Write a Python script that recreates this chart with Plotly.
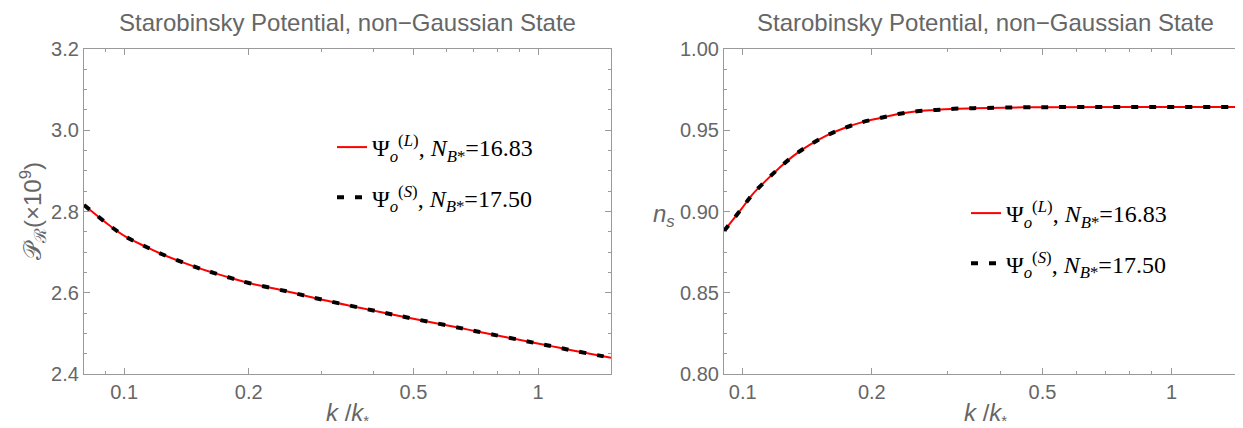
import plotly.graph_objects as go

# ---------------- data ----------------
k_left = [0.080, 0.0932, 0.1013, 0.1119, 0.1227, 0.149, 0.1645, 0.1815, 0.200,
          0.247, 0.301, 0.410, 0.500, 0.650, 0.718, 0.977, 1.083, 1.196, 1.500]
ps_L = [2.816, 2.762, 2.737, 2.715, 2.696, 2.663, 2.649, 2.636, 2.624,
        2.6035, 2.583, 2.554, 2.536, 2.513, 2.504, 2.477, 2.468, 2.459, 2.440]
ps_S = [2.816, 2.762, 2.737, 2.715, 2.696, 2.663, 2.649, 2.636, 2.624,
        2.6035, 2.583, 2.554, 2.536, 2.513, 2.504, 2.477, 2.468, 2.459, 2.440]

k_right = [0.0904, 0.0989, 0.1055, 0.1132, 0.1213, 0.1315, 0.1432, 0.1567, 0.1726,
           0.190, 0.208, 0.2304, 0.2547, 0.282, 0.311, 0.346, 0.500, 0.800, 1.500]
ns_L = [0.888, 0.901, 0.9107, 0.919, 0.9265, 0.9344, 0.941, 0.9467, 0.9514,
        0.955, 0.9574, 0.960, 0.9617, 0.9625, 0.9632, 0.9636, 0.9642, 0.9643, 0.9643]
ns_S = [0.888, 0.901, 0.9107, 0.919, 0.9265, 0.9344, 0.941, 0.9467, 0.9514,
        0.955, 0.9574, 0.960, 0.9617, 0.9625, 0.9632, 0.9636, 0.9642, 0.9643, 0.9643]

name_L = "Ψ<sub><i>o</i></sub><sup>(<i>L</i>)</sup>, <i>N</i><sub><i>B</i>*</sub>=16.83"
name_S = "Ψ<sub><i>o</i></sub><sup>(<i>S</i>)</sup>, <i>N</i><sub><i>B</i>*</sub>=17.50"

x_tickvals = [0.1, 0.2, 0.5, 1]
x_ticktext = ["0.1", "0.2", "0.5", "1"]
x_minor = [0.09, 0.3, 0.4, 0.6, 0.7, 0.8, 0.9, 1.5]
yl_ticks = [2.4, 2.6, 2.8, 3.0, 3.2]
yr_ticks = [0.80, 0.85, 0.90, 0.95, 1.00]
title_text = "Starobinsky Potential, non−Gaussian State"
x_title = "<i>k</i> /<i>k</i><sub><span style='font-size:15px'>*</span></sub>"

# ---------------- figure ----------------
W, H = 1243, 428
GRAY = "#666666"
FRAME = "#9a9a9a"

fig = go.Figure()

fig.add_trace(go.Scatter(x=k_left, y=ps_L, mode="lines", name=name_L,
                         line=dict(color="red", width=2, shape="spline"),
                         xaxis="x", yaxis="y", legend="legend", legendgroup="a"))
fig.add_trace(go.Scatter(x=k_left, y=ps_S, mode="lines", name=name_S,
                         line=dict(color="black", width=4, dash="7px,11px", shape="spline"),
                         xaxis="x", yaxis="y", legend="legend", legendgroup="b"))
fig.add_trace(go.Scatter(x=k_right, y=ns_L, mode="lines", name=name_L,
                         line=dict(color="red", width=2, shape="spline"),
                         xaxis="x2", yaxis="y2", legend="legend2", legendgroup="c"))
fig.add_trace(go.Scatter(x=k_right, y=ns_S, mode="lines", name=name_S,
                         line=dict(color="black", width=4, dash="7px,11px", shape="spline"),
                         xaxis="x2", yaxis="y2", legend="legend2", legendgroup="d"))

L0, L1 = 76, 603
R0, R1 = 716, 1239
T, B = 41, 366

def px(x):
    return x / W

axis_common = dict(showline=True, linecolor=FRAME, linewidth=1.2, mirror="ticks",
                   ticks="inside", ticklen=6, tickcolor=FRAME, tickwidth=1,
                   showgrid=False, zeroline=False,
                   tickfont=dict(family="Liberation Sans, Arial", size=20, color=GRAY))

xminor = dict(tickvals=x_minor, ticklen=3, tickcolor=FRAME, ticks="inside")

LEG_FONT = dict(family="Liberation Serif, Times New Roman", size=24, color="black")

fig.update_layout(
    width=W, height=H,
    margin=dict(l=0, r=0, t=T, b=H - B),
    paper_bgcolor="white", plot_bgcolor="white",
    xaxis=dict(type="log", domain=[px(L0), px(L1)], range=[-1.0969, 0.1761],
               tickvals=x_tickvals, ticktext=x_ticktext, minor=xminor,
               anchor="y", **axis_common),
    yaxis=dict(domain=[0, 1], range=[2.4, 3.2], tickvals=yl_ticks, tickformat=".1f",
               minor=dict(dtick=0.05, ticklen=3, tickcolor=FRAME, ticks="inside"),
               anchor="x", **axis_common),
    xaxis2=dict(type="log", domain=[px(R0), px(R1)], range=[-1.0438, 0.1761],
                tickvals=x_tickvals, ticktext=x_ticktext, minor=xminor,
                anchor="y2", **axis_common),
    yaxis2=dict(domain=[0, 1], range=[0.80, 1.00], tickvals=yr_ticks, tickformat=".2f",
                minor=dict(dtick=0.0125, ticklen=3, tickcolor=FRAME, ticks="inside"),
                anchor="x2", **axis_common),
    legend=dict(x=px(324), y=(B - 117) / (B - T), xanchor="left", yanchor="top",
                bgcolor="rgba(0,0,0,0)", tracegroupgap=16, font=LEG_FONT),
    legend2=dict(x=px(958), y=(B - 183) / (B - T), xanchor="left", yanchor="top",
                 bgcolor="rgba(0,0,0,0)", tracegroupgap=16, font=LEG_FONT),
    showlegend=True,
)

ann_font = dict(family="Liberation Sans, Arial", color=GRAY)
PH = B - T
annotations = [
    dict(text=title_text, x=px((L0 + L1) / 2), y=(B - 14) / PH, xref="paper", yref="paper",
         showarrow=False, xanchor="center", yanchor="middle", font=dict(size=24, **ann_font)),
    dict(text=title_text, x=px((R0 + R1) / 2), y=(B - 14) / PH, xref="paper", yref="paper",
         showarrow=False, xanchor="center", yanchor="middle", font=dict(size=24, **ann_font)),
    dict(text=x_title, x=px((L0 + L1) / 2), y=(B - 406) / PH,
         xref="paper", yref="paper", showarrow=False, xanchor="center", yanchor="middle",
         font=dict(size=24, **ann_font)),
    dict(text=x_title, x=px((R0 + R1) / 2), y=(B - 406) / PH,
         xref="paper", yref="paper", showarrow=False, xanchor="center", yanchor="middle",
         font=dict(size=24, **ann_font)),
    dict(text="𝒫<sub>ℛ</sub>(×10<sup>9</sup>)", x=px(25), y=(B - 203) / PH,
         xref="paper", yref="paper", showarrow=False, xanchor="center", yanchor="middle",
         textangle=-90, font=dict(size=24, **ann_font)),
    dict(text="<i>n</i><sub><i>s</i></sub>", x=px(656), y=(B - 207) / PH,
         xref="paper", yref="paper", showarrow=False, xanchor="center", yanchor="middle",
         font=dict(size=24, **ann_font)),
]
fig.update_layout(annotations=annotations)

fig.write_html("out.html")
